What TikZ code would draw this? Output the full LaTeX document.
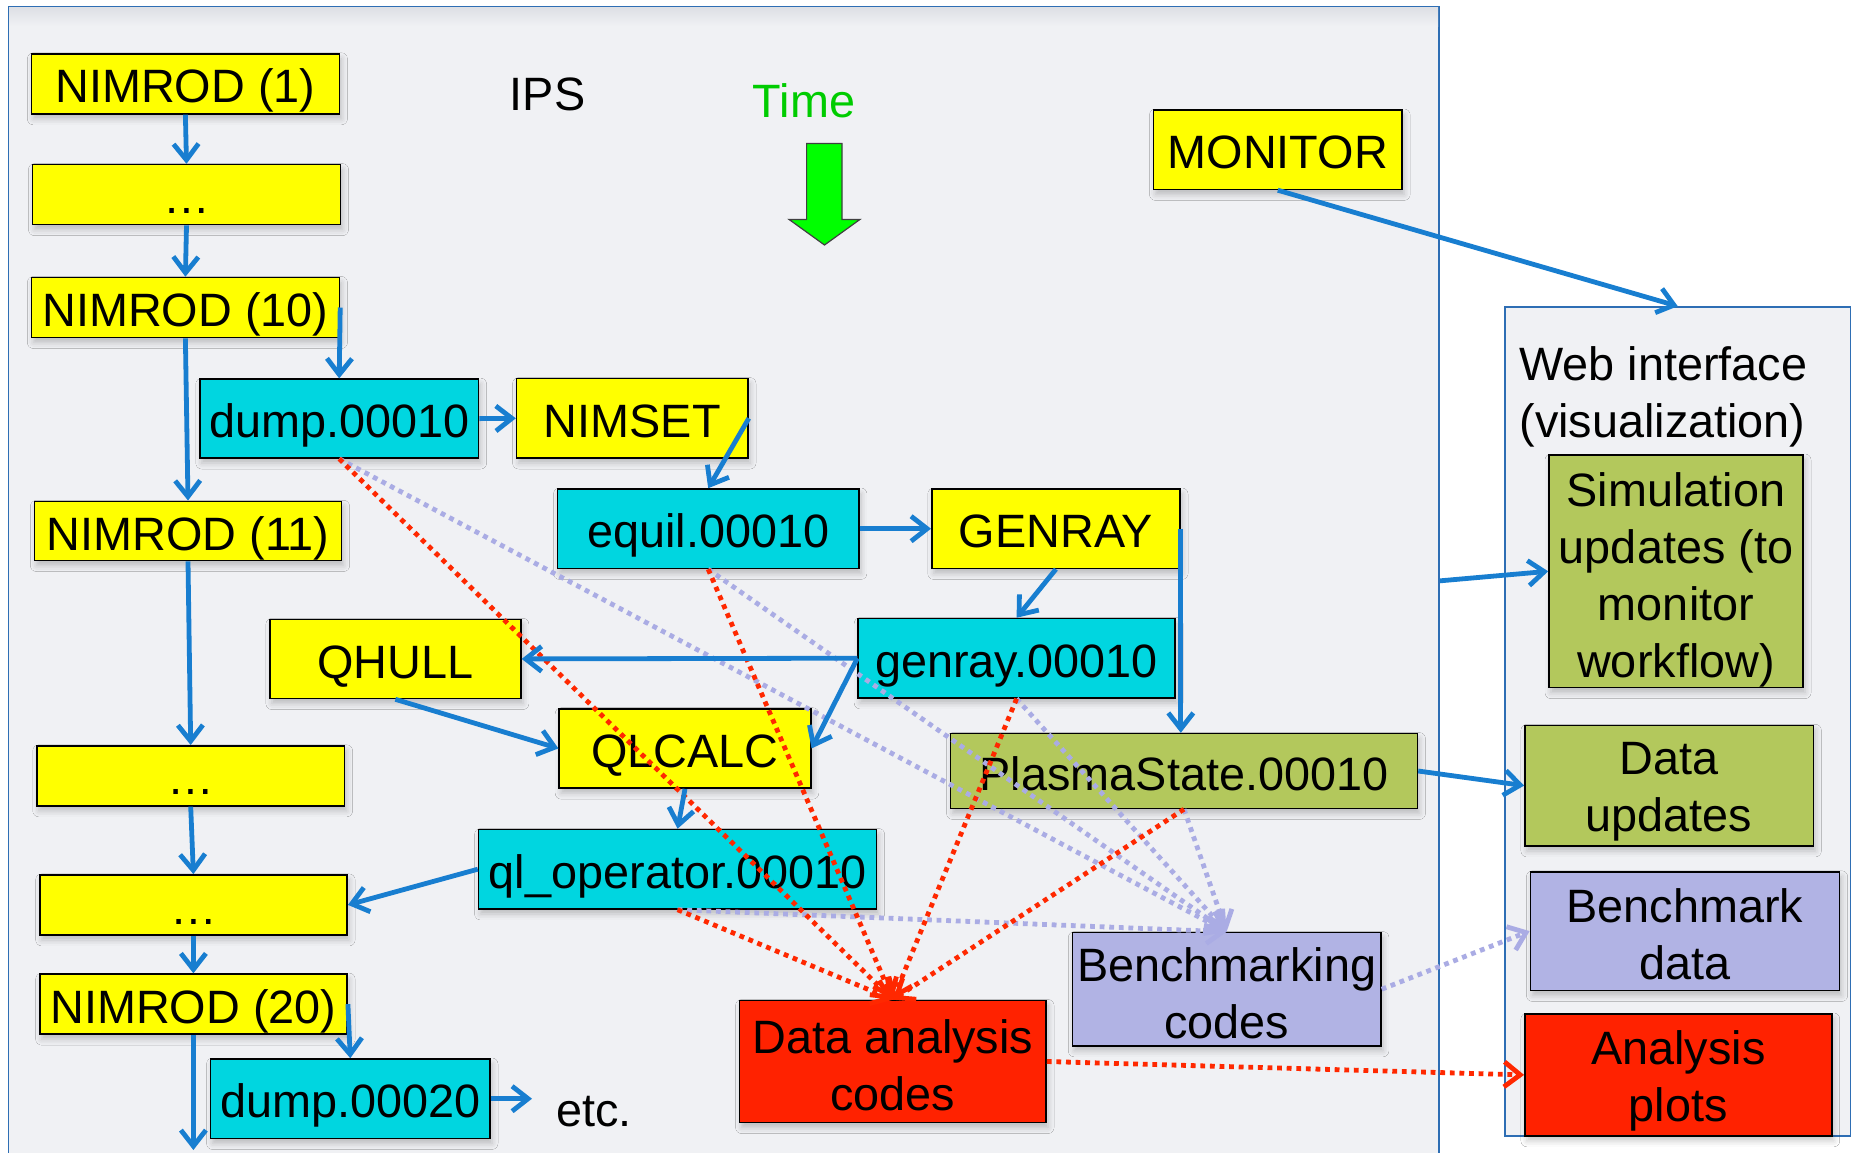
\documentclass[tikz,border=0pt]{standalone}
\usepackage{fontspec}
\setmainfont{Liberation Sans}
\usetikzlibrary{arrows.meta,calc,shadows.blur}
\definecolor{ylw}{RGB}{255,255,0}
\definecolor{cyn}{RGB}{0,214,224}
\definecolor{olv}{RGB}{179,200,92}
\definecolor{lav}{RGB}{177,179,228}
\definecolor{rdf}{RGB}{255,34,0}
\definecolor{abl}{RGB}{24,126,208}
\definecolor{pnl}{RGB}{240,241,244}
\definecolor{pshd}{RGB}{222,224,229}
\definecolor{pbd}{RGB}{46,110,180}
\definecolor{dred}{RGB}{255,40,0}
\definecolor{dlav}{RGB}{170,172,228}
\definecolor{tgrn}{RGB}{0,204,0}
\definecolor{agrn}{RGB}{0,255,0}
\newcommand{\fsz}{\fontsize{23.4}{28.5}\selectfont}
\newcommand{\mlines}[3]{\raisebox{-#1}[\height][\depth]{\parbox{#2}{\centering #3}}}
\begin{document}
\begin{tikzpicture}[x=0.5pt,y=-0.5pt,
 base/.style={draw=black, line width=0.8pt, inner sep=0pt, font=\fsz,
   blur shadow={shadow xshift=1pt, shadow yshift=-2.5pt, shadow blur radius=3pt, shadow opacity=22}},
 sbox/.style={base, text height=19.1pt, text depth=0pt},
 mbox/.style={base, align=center},
 panel/.style={draw=pbd, line width=0.8pt, fill=pnl, inner sep=0pt},
 barr/.style={draw=abl, line width=2.4pt, -{Straight Barb[length=8pt,width=12.5pt]}},
 rdot/.style={draw=dred, line width=2.4pt, dash pattern=on 2.4pt off 2.4pt, -{Straight Barb[length=8pt,width=12.5pt]}},
 ldot/.style={draw=dlav, line width=2.4pt, dash pattern=on 2.4pt off 2.4pt, -{Straight Barb[length=8pt,width=12.5pt]}},
 plain/.style={inner sep=0pt, font=\fsz, text height=19.1pt, text depth=0pt}
]
\useasboundingbox (0,0) rectangle (1858,1152);
\fill[white] (0,0) rectangle (1858,1152);

% panels
\node[panel, minimum width=715.35pt, minimum height=574.15pt] (ips) at (723.65,580.85) {};
\shade[top color=pshd, bottom color=pnl] (9,7.5) rectangle (1438,26);
\node[panel, minimum width=172.75pt, minimum height=414.5pt] (web) at (1677.75,721.5) {};

% labels
\node[plain] (ipslbl) at (547.5,91.5) {IPS};
\node[plain, text=tgrn] (timelbl) at (804,98.5) {Time};
\node[font=\fsz, align=left, anchor=west, inner sep=0pt] (webtxt) at (1519,397) {Web interface\\(visualization)};
\node[plain, anchor=base west] (etc) at (556,1126) {etc.};

% time arrow
\draw[fill=agrn, draw=black!75, line width=0.6pt]
  (806.6,143.5) -- (842,143.5) -- (842,219.4) -- (860,219.4) -- (824.5,245)
  -- (789,219.4) -- (806.6,219.4) -- cycle;

% boxes
\node[sbox, fill=ylw, minimum width=154pt, minimum height=30pt] (n1) at (185.4,83.8) {NIMROD (1)};
\node[sbox, fill=ylw, minimum width=154pt, minimum height=30pt] (d1) at (186.5,194.6) {…};
\node[sbox, fill=ylw, minimum width=154pt, minimum height=30pt] (n10) at (185.4,307.5) {NIMROD (10)};
\node[sbox, fill=cyn, minimum width=139.4pt, minimum height=39.4pt] (dump10) at (339.2,418.6) {dump.00010};
\node[sbox, fill=ylw, minimum width=115.7pt, minimum height=39.7pt] (nimset) at (632.3,418.3) {NIMSET};
\node[sbox, fill=ylw, minimum width=153.6pt, minimum height=29.6pt] (n11) at (188,530.9) {NIMROD (11)};
\node[sbox, fill=cyn, minimum width=150.7pt, minimum height=39.7pt] (equil) at (708.2,528.7) {equil.00010};
\node[sbox, fill=ylw, minimum width=124.1pt, minimum height=39.7pt] (genray) at (1055.9,528.7) {GENRAY};
\node[sbox, fill=cyn, minimum width=158.4pt, minimum height=39.7pt] (genray10) at (1016.6,658.2) {genray.00010};
\node[sbox, fill=ylw, minimum width=125.5pt, minimum height=39.6pt] (qhull) at (395.4,658.9) {QHULL};
\node[sbox, fill=ylw, minimum width=125.8pt, minimum height=39.7pt] (qlcalc) at (685,748.4) {QLCALC};
\node[sbox, fill=olv, minimum width=233.4pt, minimum height=37.4pt] (plasma) at (1184,771) {PlasmaState.00010};
\node[sbox, fill=ylw, minimum width=153.9pt, minimum height=30pt] (d2) at (190.7,775.8) {…};
\node[sbox, fill=cyn, minimum width=199pt, minimum height=39.7pt] (qlop) at (677.6,869.2) {ql\_operator.00010};
\node[sbox, fill=ylw, minimum width=153.7pt, minimum height=30pt] (d3) at (193.4,904.9) {…};
\node[sbox, fill=ylw, minimum width=153.7pt, minimum height=30pt] (n20) at (193.4,1004.1) {NIMROD (20)};
\node[sbox, fill=cyn, minimum width=139.7pt, minimum height=39.7pt] (dump20) at (350.3,1098.7) {dump.00020};
\node[mbox, fill=rdf, minimum width=153.2pt, minimum height=61pt] (dac) at (892.8,1061.5) {\mlines{1.8pt}{150pt}{Data analysis\\codes}};
\node[mbox, fill=lav, minimum width=154.3pt, minimum height=56.6pt] (bcodes) at (1226.6,989.2) {\mlines{1.8pt}{152pt}{Benchmarking\\codes}};
\node[sbox, fill=ylw, minimum width=124.3pt, minimum height=39.7pt] (monitor) at (1277.8,149.7) {MONITOR};
\node[mbox, fill=olv, minimum width=127pt, minimum height=116.3pt] (sim) at (1676,571.3) {\mlines{4.2pt}{124pt}{Simulation\\updates (to\\monitor\\workflow)}};
\node[mbox, fill=olv, minimum width=144.2pt, minimum height=60.3pt] (dupd) at (1669.1,785.6) {\mlines{3pt}{140pt}{Data\\updates}};
\node[mbox, fill=lav, minimum width=154.6pt, minimum height=59.3pt] (bdata) at (1685,931.1) {\mlines{1.8pt}{150pt}{Benchmark\\data}};
\node[mbox, fill=rdf, minimum width=153.4pt, minimum height=60.9pt] (aplots) at (1678.3,1074.9) {\mlines{3pt}{150pt}{Analysis\\plots}};

\coordinate (offbot) at (193.4,1150);

% dotted connectors
\draw[ldot] (dump10.south) -- (bcodes.north);
\draw[ldot] (equil.south) -- (bcodes.north);
\draw[ldot] (genray10.south) -- (bcodes.north);
\draw[ldot] (plasma.south) -- (bcodes.north);
\draw[ldot] (qlop.south) -- (bcodes.north);
\draw[ldot] (bcodes.east) -- (bdata.west);
\draw[rdot] (dump10.south) -- (dac.north);
\draw[rdot] (equil.south) -- (dac.north);
\draw[rdot] (genray10.south) -- (dac.north);
\draw[rdot] (plasma.south) -- (dac.north);
\draw[rdot] (qlop.south) -- (dac.north);
\draw[rdot] (dac.east) -- (aplots.west);

% solid connectors
\draw[barr] (n1.south) -- (d1.north);
\draw[barr] (d1.south) -- (n10.north);
\draw[barr] (n10.south) -- (n11.north);
\draw[barr] (n10.east) -- (dump10.north);
\draw[barr] (dump10.east) -- (nimset.west);
\draw[barr] (nimset.east) -- (equil.north);
\draw[barr] (equil.east) -- (genray.west);
\draw[barr] (genray.south) -- (genray10.north);
\draw[barr] (genray.east) -- (genray.east |- plasma.north);
\draw[barr] (genray10.west) -- (qhull.east);
\draw[barr] (genray10.west) -- (qlcalc.east);
\draw[barr] (qhull.south) -- (qlcalc.west);
\draw[barr] (qlcalc.south) -- (qlop.north);
\draw[barr] (qlop.west) -- (d3.east);
\draw[barr] (n11.south) -- (d2.north);
\draw[barr] (d2.south) -- (d3.north);
\draw[barr] (d3.south) -- (n20.north);
\draw[barr] (n20.east) -- (dump20.north);
\draw[barr] (n20.south) -- (offbot);
\draw[barr, shorten >=12pt] (dump20.east) -- (dump20.east -| etc.west);
\draw[barr] (monitor.south) -- (web.north);
\draw[barr] (ips.east) -- (sim.west);
\draw[barr] (plasma.east) -- (dupd.west);
\end{tikzpicture}
\end{document}
